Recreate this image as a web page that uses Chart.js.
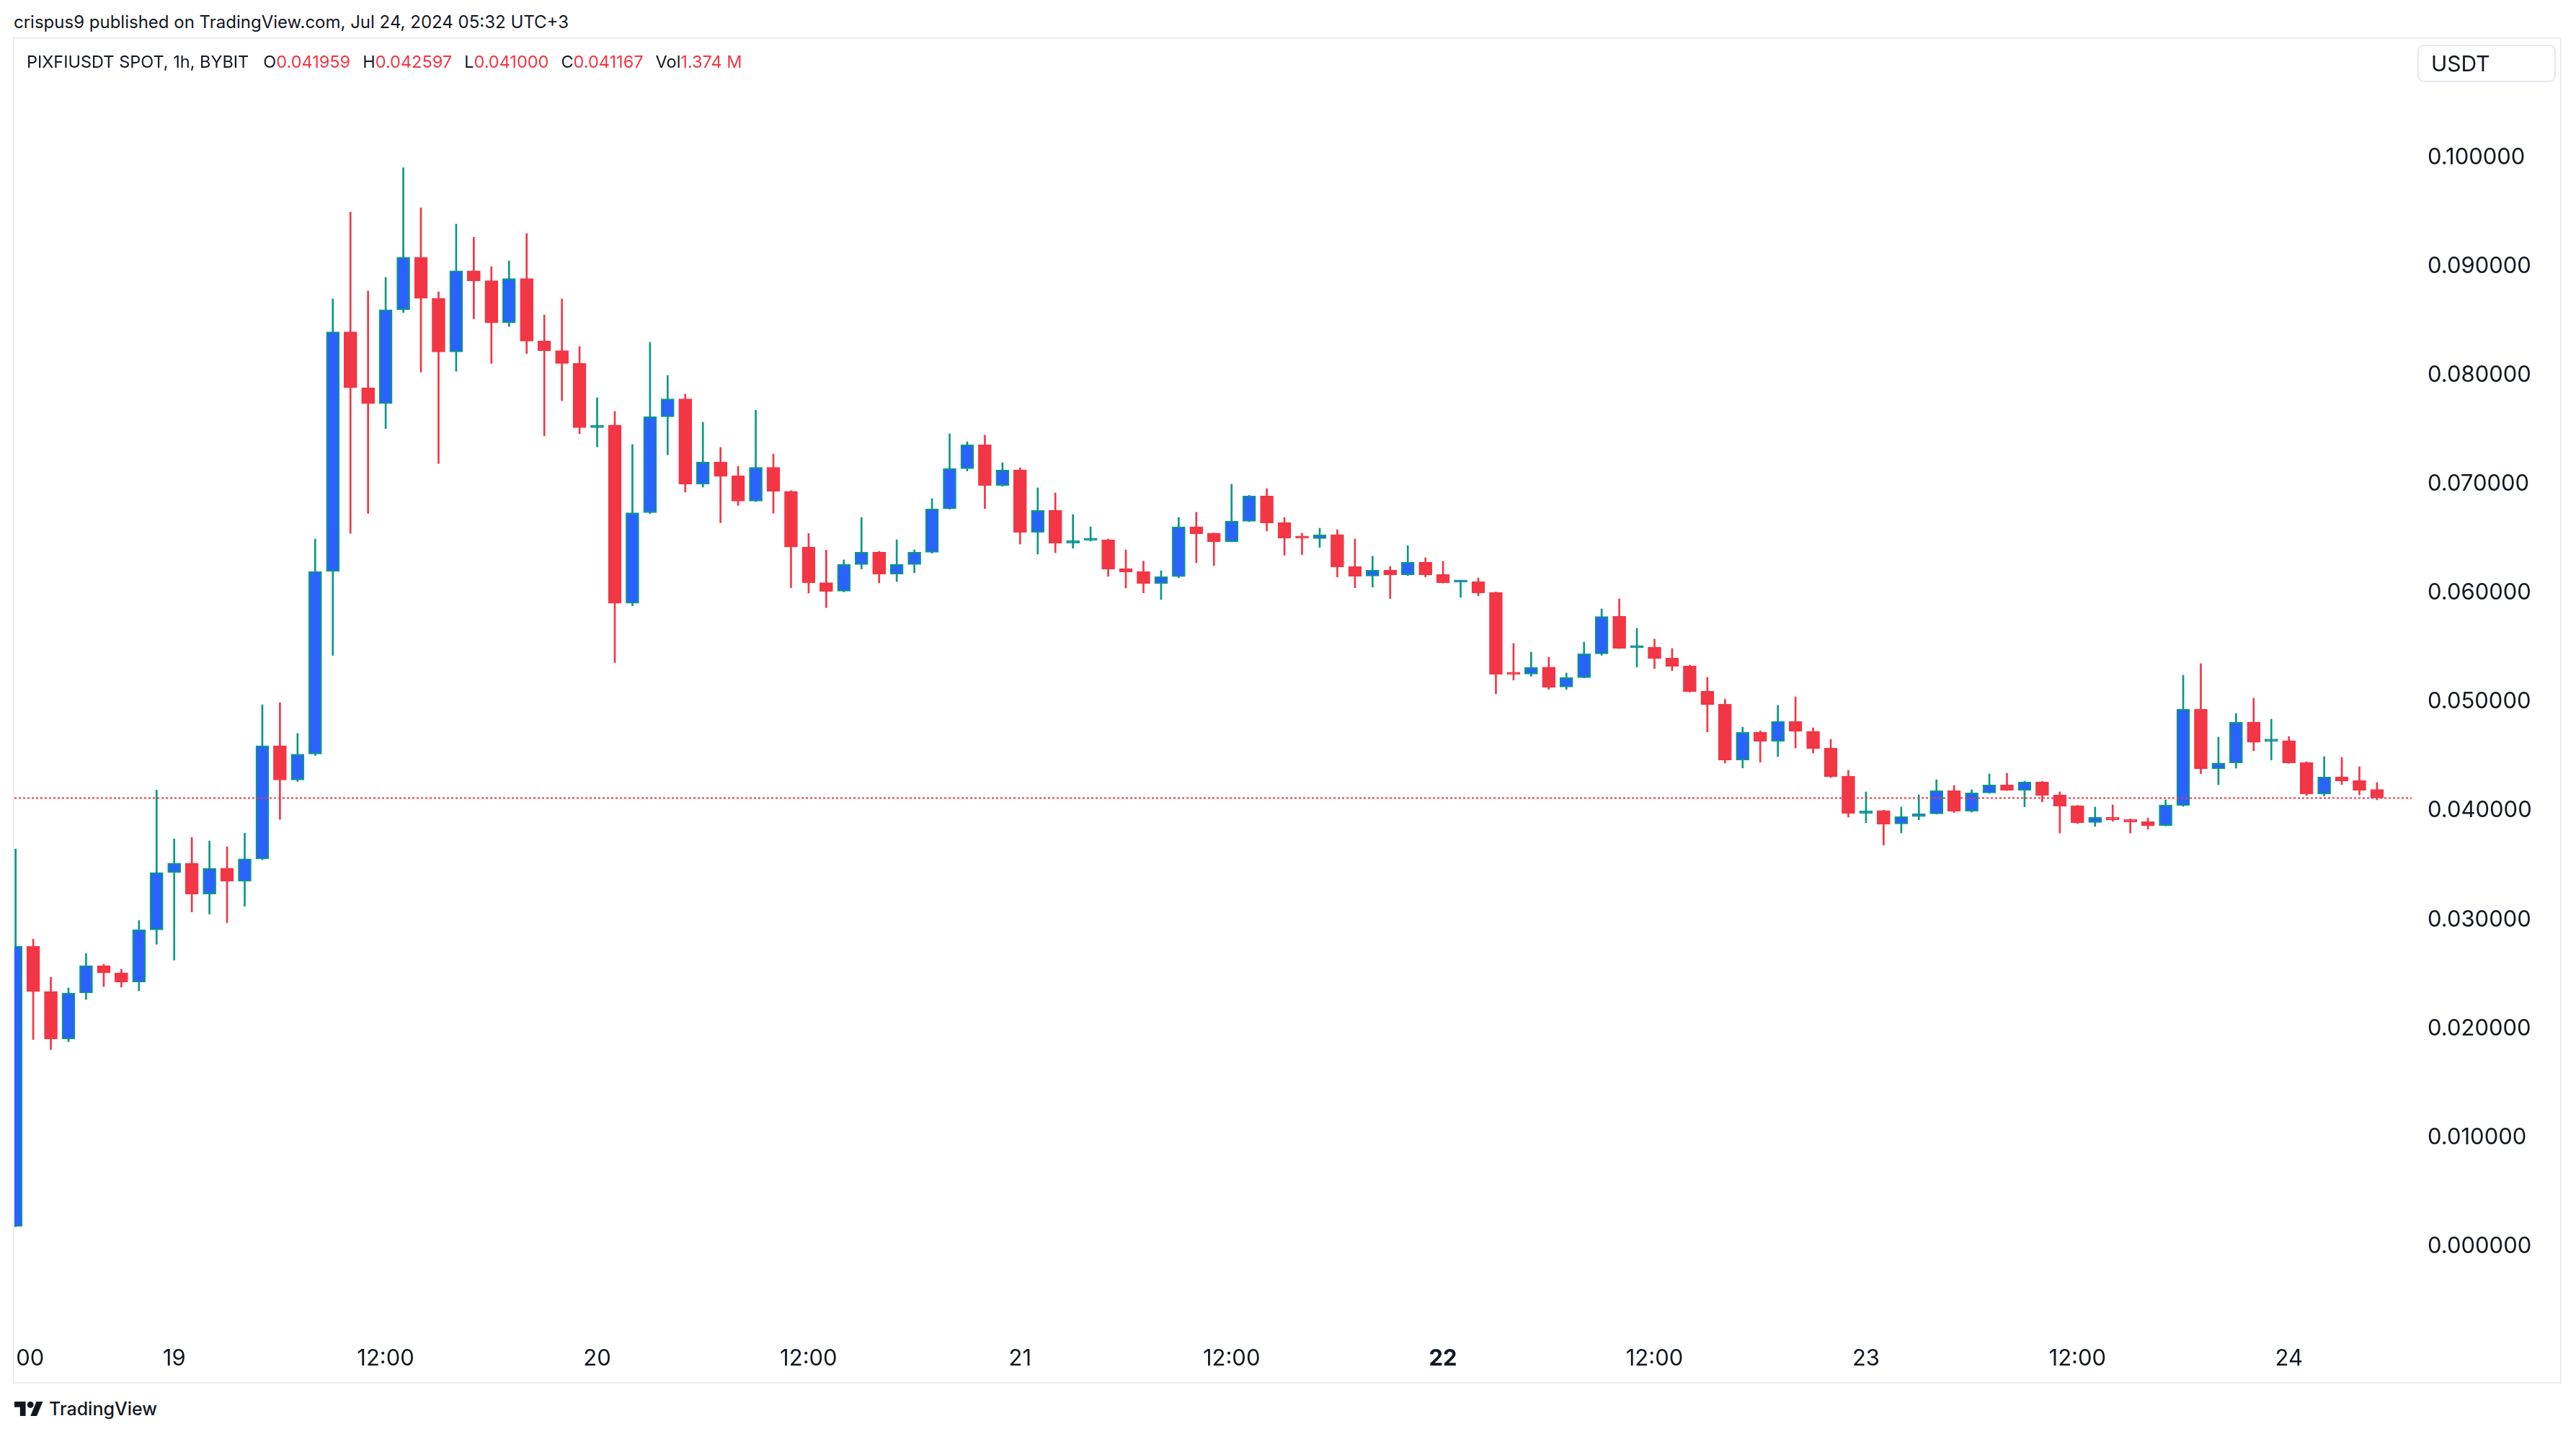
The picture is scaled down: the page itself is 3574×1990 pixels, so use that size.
<!DOCTYPE html>
<html>
<head>
<meta charset="utf-8">
<script src="https://cdn.jsdelivr.net/npm/chart.js@4.4.1/dist/chart.umd.min.js"></script>
<style>
  html, body { margin: 0; padding: 0; background: #ffffff; }
  body { width: 3574px; height: 1990px; position: relative; overflow: hidden;
         font-family: Inter, "Noto Sans", Roboto, sans-serif; color: #131722; }
  #header { position: absolute; left: 19px; top: 17px; font-size: 24px; line-height: 28px; white-space: nowrap; }
  #panel { position: absolute; left: 18px; top: 52px; width: 3536px; height: 1868px;
           border: 2px solid #ececf1; box-sizing: border-box; }
  #chart { position: absolute; left: 0; top: 0; }
  #legend { position: absolute; left: 17px; top: 18px; font-size: 23.5px; line-height: 28px; white-space: nowrap; display: flex; }
  #legend .grp { margin-left: 17px; }
  #legend .title { margin-right: 3px; }
  #legend .v { color: #F23645; }
  #unit { position: absolute; left: 3334px; top: 8px; width: 192px; height: 52px; box-sizing: border-box;
          border: 2px solid #e6e8ee; border-radius: 9px; font-size: 30px; line-height: 48px; padding-left: 17px; }
  #footer { position: absolute; left: 20px; top: 1940px; height: 30px; display: flex; align-items: center; }
  #footer svg { width: 40px; height: 20px; margin-right: 8px; }
  #footer span { font-size: 25px; font-weight: 500; }
</style>
</head>
<body>
<div id="header">crispus9 published on TradingView.com, Jul 24, 2024 05:32 UTC+3</div>
<div id="panel">
  <canvas id="chart" width="3532" height="1864"></canvas>
  <div id="legend"></div>
  <div id="unit">USDT</div>
</div>
<div id="footer">
  <svg viewBox="0 4 36 18" xmlns="http://www.w3.org/2000/svg"><path fill="#131722" d="M14 22H7V11H0V4h14v18zM28 22h-8l7.5-18h8L28 22z"/><circle fill="#131722" cx="20" cy="8" r="4"/></svg>
  <span>TradingView</span>
</div>
<script>
// ---- Data: PIXFIUSDT 1h candles, index = hours since 18 Jul 2024 15:00 ----
const startTime = '2024-07-18 15:00';
const opens = [
  0.00182, 0.02754, 0.02340, 0.01905, 0.02326, 0.02577, 0.02511, 0.02426, 0.02906, 0.03433,
  0.03518, 0.03235, 0.03472, 0.03353, 0.03558, 0.04598, 0.04282, 0.04520, 0.06198, 0.08398,
  0.07884, 0.07739, 0.08602, 0.09083, 0.08707, 0.08214, 0.08959, 0.08868, 0.08484, 0.08887,
  0.08313, 0.08226, 0.08108, 0.07519, 0.07542, 0.05905, 0.06737, 0.07618, 0.07782, 0.06999,
  0.07204, 0.07078, 0.06843, 0.07154, 0.06934, 0.06421, 0.06095, 0.06017, 0.06262, 0.06376,
  0.06173, 0.06262, 0.06374, 0.06772, 0.07142, 0.07361, 0.06987, 0.07131, 0.06557, 0.06758,
  0.06458, 0.06484, 0.06489, 0.06224, 0.06198, 0.06087, 0.06150, 0.06608, 0.06549, 0.06471,
  0.06659, 0.06891, 0.06648, 0.06516, 0.06500, 0.06536, 0.06244, 0.06156, 0.06211, 0.06167,
  0.06284, 0.06171, 0.06099, 0.06105, 0.06006, 0.05265, 0.05255, 0.05318, 0.05136, 0.05223,
  0.05441, 0.05787, 0.05498, 0.05503, 0.05404, 0.05331, 0.05099, 0.04980, 0.04466, 0.04722,
  0.04638, 0.04821, 0.04729, 0.04576, 0.04318, 0.03976, 0.04001, 0.03879, 0.03946, 0.03972,
  0.04184, 0.03996, 0.04164, 0.04237, 0.04188, 0.04265, 0.04146, 0.04047, 0.03892, 0.03941,
  0.03921, 0.03901, 0.03864, 0.04049, 0.04932, 0.04386, 0.04439, 0.04813, 0.04638, 0.04643,
  0.04444, 0.04155, 0.04312, 0.04278, 0.041959
];
const highs = [
  0.03650, 0.02820, 0.02471, 0.02373, 0.02688, 0.02590, 0.02544, 0.02991, 0.04190, 0.03742,
  0.03756, 0.03723, 0.03670, 0.03795, 0.04974, 0.04993, 0.04710, 0.06495, 0.08701, 0.09498,
  0.08773, 0.08898, 0.09906, 0.09537, 0.08766, 0.09388, 0.09267, 0.08997, 0.09050, 0.09301,
  0.08553, 0.08701, 0.08264, 0.07793, 0.07667, 0.07363, 0.08302, 0.07998, 0.07827, 0.07568,
  0.07337, 0.07162, 0.07679, 0.07276, 0.06940, 0.06547, 0.06394, 0.06304, 0.06694, 0.06383,
  0.06489, 0.06396, 0.06866, 0.07462, 0.07389, 0.07449, 0.07197, 0.07151, 0.06966, 0.06919,
  0.06721, 0.06608, 0.06496, 0.06396, 0.06291, 0.06204, 0.06694, 0.06741, 0.06550, 0.06999,
  0.06897, 0.06959, 0.06694, 0.06549, 0.06595, 0.06582, 0.06496, 0.06337, 0.06244, 0.06436,
  0.06324, 0.06291, 0.06116, 0.06138, 0.06010, 0.05536, 0.05457, 0.05410, 0.05265, 0.05549,
  0.05854, 0.05946, 0.05675, 0.05576, 0.05490, 0.05338, 0.05225, 0.05026, 0.04768, 0.04735,
  0.04967, 0.05046, 0.04762, 0.04656, 0.04371, 0.04173, 0.04005, 0.04034, 0.04146, 0.04285,
  0.04232, 0.04193, 0.04338, 0.04345, 0.04272, 0.04270, 0.04173, 0.04050, 0.04034, 0.04054,
  0.03925, 0.03934, 0.04100, 0.05245, 0.05351, 0.04676, 0.04894, 0.05033, 0.04841, 0.04682,
  0.04450, 0.04497, 0.04490, 0.04404, 0.042597
];
const lows = [
  0.00180, 0.01898, 0.01806, 0.01879, 0.02267, 0.02386, 0.02380, 0.02346, 0.02774, 0.02629,
  0.03071, 0.03051, 0.02972, 0.03123, 0.03550, 0.03920, 0.04269, 0.04507, 0.05428, 0.06547,
  0.06732, 0.07509, 0.08576, 0.08029, 0.07189, 0.08036, 0.08518, 0.08108, 0.08446, 0.08199,
  0.07443, 0.07766, 0.07462, 0.07341, 0.05361, 0.05882, 0.06730, 0.07269, 0.06927, 0.06972,
  0.06645, 0.06805, 0.06840, 0.06733, 0.06049, 0.05999, 0.05866, 0.06010, 0.06220, 0.06092,
  0.06105, 0.06185, 0.06365, 0.06770, 0.07120, 0.06774, 0.06979, 0.06449, 0.06357, 0.06370,
  0.06412, 0.06476, 0.06152, 0.06046, 0.06001, 0.05940, 0.06140, 0.06277, 0.06251, 0.06470,
  0.06655, 0.06570, 0.06346, 0.06352, 0.06418, 0.06147, 0.06048, 0.06054, 0.05948, 0.06160,
  0.06147, 0.06090, 0.05960, 0.05973, 0.05075, 0.05201, 0.05234, 0.05114, 0.05114, 0.05220,
  0.05428, 0.05490, 0.05320, 0.05306, 0.05287, 0.05090, 0.04724, 0.04439, 0.04393, 0.04446,
  0.04497, 0.04576, 0.04530, 0.04305, 0.03941, 0.03890, 0.03685, 0.03797, 0.03917, 0.03970,
  0.03983, 0.03987, 0.04160, 0.04185, 0.04036, 0.04082, 0.03795, 0.03881, 0.03857, 0.03903,
  0.03795, 0.03831, 0.03860, 0.04040, 0.04340, 0.04239, 0.04391, 0.04550, 0.04466, 0.04435,
  0.04140, 0.04135, 0.04239, 0.04146, 0.041000
];
const closes = [
  0.02756, 0.02340, 0.01905, 0.02326, 0.02577, 0.02511, 0.02426, 0.02906, 0.03433, 0.03518,
  0.03235, 0.03472, 0.03353, 0.03558, 0.04598, 0.04282, 0.04520, 0.06198, 0.08398, 0.07884,
  0.07739, 0.08602, 0.09083, 0.08707, 0.08214, 0.08959, 0.08868, 0.08484, 0.08887, 0.08313,
  0.08226, 0.08108, 0.07519, 0.07540, 0.05905, 0.06737, 0.07618, 0.07782, 0.06999, 0.07204,
  0.07071, 0.06843, 0.07154, 0.06934, 0.06421, 0.06095, 0.06015, 0.06262, 0.06374, 0.06173,
  0.06262, 0.06374, 0.06772, 0.07142, 0.07361, 0.06987, 0.07129, 0.06557, 0.06758, 0.06458,
  0.06480, 0.06496, 0.06218, 0.06193, 0.06087, 0.06150, 0.06606, 0.06544, 0.06469, 0.06659,
  0.06891, 0.06643, 0.06504, 0.06504, 0.06533, 0.06240, 0.06154, 0.06209, 0.06167, 0.06282,
  0.06167, 0.06094, 0.06112, 0.06001, 0.05253, 0.05253, 0.05316, 0.05134, 0.05223, 0.05441,
  0.05783, 0.05492, 0.05508, 0.05399, 0.05326, 0.05095, 0.04976, 0.04466, 0.04720, 0.04638,
  0.04821, 0.04729, 0.04572, 0.04314, 0.03976, 0.03999, 0.03877, 0.03946, 0.03972, 0.04184,
  0.03996, 0.04164, 0.04237, 0.04188, 0.04263, 0.04140, 0.04042, 0.03890, 0.03939, 0.03917,
  0.03897, 0.03864, 0.04052, 0.04932, 0.04385, 0.04439, 0.04813, 0.04629, 0.04647, 0.04439,
  0.04155, 0.04310, 0.04274, 0.04188, 0.041167
];
const lastVolume = '1.374 M';
const symbolTitle = 'PIXFIUSDT SPOT, 1h, BYBIT';

// Axis ticks
const xTickHours  = [0, 9, 21, 33, 45, 57, 69, 81, 93, 105, 117, 129];
const xTickLabels = ['15:00', '19', '12:00', '20', '12:00', '21', '12:00', '22', '12:00', '23', '12:00', '24'];
const boldTickLabels = ['22'];
const yTicks = [0, 0.01, 0.02, 0.03, 0.04, 0.05, 0.06, 0.07, 0.08, 0.09, 0.10];

// Visible window
const xMin = -0.0675, xMax = 135.965;
const yMin = -0.0074454, yMax = 0.110887;

// ---- Styles ----
const UP_FILL = '#2962FF', UP_LINE = '#089981', DOWN = '#F23645', TEXT = '#131722';
const FONT = 'Inter, "Noto Sans", Roboto, sans-serif';

// Legend (last candle)
const n = closes.length;
const lg = document.getElementById('legend');
const fmt = v => v.toFixed(6);
lg.innerHTML = '<span class="title">' + symbolTitle + '</span>' +
  [['O', fmt(opens[n-1])], ['H', fmt(highs[n-1])], ['L', fmt(lows[n-1])], ['C', fmt(closes[n-1])], ['Vol', lastVolume]]
  .map(([k, v]) => '<span class="grp">' + k + '<span class="v">' + v + '</span></span>').join('');

const up = closes.map((c, i) => c >= opens[i]);
const bodyData = opens.map((o, i) => ({ x: i, y: [o, closes[i]] }));
const wickData = lows.map((l, i) => ({ x: i, y: [l, highs[i]] }));
const last = closes[n - 1];

new Chart(document.getElementById('chart'), {
  type: 'bar',
  data: {
    datasets: [
      {
        type: 'line',
        data: [{ x: xMin, y: last }, { x: xMax, y: last }],
        borderColor: DOWN, borderWidth: 2, borderDash: [3, 3],
        pointRadius: 0, fill: false, order: 0
      },
      {
        data: bodyData,
        backgroundColor: up.map(u => u ? UP_FILL : DOWN),
        borderColor: up.map(u => u ? UP_LINE : DOWN),
        borderWidth: 2, borderSkipped: false, barThickness: 18, minBarLength: 3,
        grouped: false, order: 1
      },
      {
        data: wickData,
        backgroundColor: up.map(u => u ? UP_LINE : DOWN),
        borderWidth: 0, barThickness: 2, grouped: false, order: 2
      }
    ]
  },
  options: {
    responsive: false, maintainAspectRatio: false, animation: false, devicePixelRatio: 1,
    layout: { padding: 0, autoPadding: false },
    plugins: { legend: { display: false }, tooltip: { enabled: false } },
    scales: {
      x: {
        type: 'linear', min: xMin, max: xMax, offset: false,
        grid: { display: false }, border: { display: false },
        afterFit: s => { s.height = 76; s.paddingLeft = 0; s.paddingRight = 0; },
        afterBuildTicks: s => { s.ticks = xTickHours.map(v => ({ value: v })); },
        ticks: {
          autoSkip: false, maxRotation: 0, padding: 17, color: TEXT,
          callback: (v, i) => xTickLabels[i],
          font: ctx => ({ family: FONT, size: 31, weight: boldTickLabels.includes(xTickLabels[ctx.index]) ? 'bold' : 'normal' })
        }
      },
      y: {
        type: 'linear', position: 'right', min: yMin, max: yMax,
        grid: { display: false }, border: { display: false },
        afterFit: s => { s.width = 206; s.paddingTop = 0; s.paddingBottom = 0; },
        afterBuildTicks: s => { s.ticks = yTicks.map(v => ({ value: v })); },
        ticks: {
          padding: 14, crossAlign: 'near', color: TEXT,
          font: { family: FONT, size: 31 },
          callback: v => v.toFixed(6)
        }
      }
    }
  }
});
</script>
</body>
</html>
